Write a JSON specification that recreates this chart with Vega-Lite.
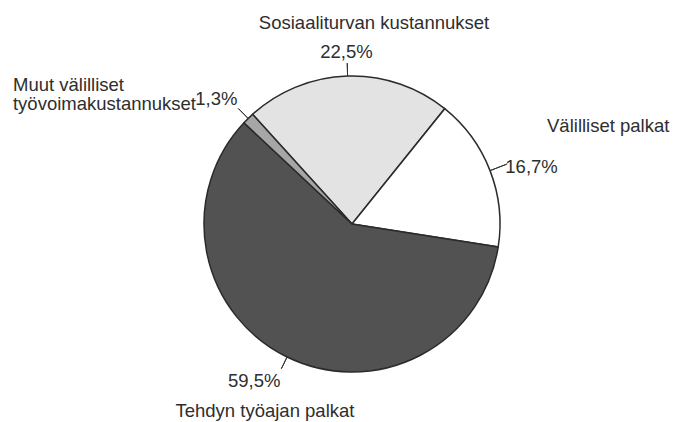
{
  "$schema": "https://vega.github.io/schema/vega-lite/v6.json",
  "width": 644,
  "height": 396,
  "autosize": "none",
  "padding": {"left": 30, "top": 26, "right": 0, "bottom": 0},
  "background": "white",
  "config": {"view": {"stroke": null}, "text": {"font": "Liberation Sans", "fontSize": 18.5, "fill": "#2e2e2e"}},
  "data": {
    "values": [
      {"name": "Sosiaaliturvan kustannukset", "label": "Sosiaaliturvan kustannukset", "share": 22.5, "pct": "22,5%", "order": 1},
      {"name": "Välilliset palkat", "label": "Välilliset palkat", "share": 16.7, "pct": "16,7%", "order": 2},
      {"name": "Tehdyn työajan palkat", "label": "Tehdyn työajan palkat", "share": 59.5, "pct": "59,5%", "order": 3},
      {"name": "Muut välilliset työvoimakustannukset", "label": ["Muut välilliset", "työvoimakustannukset"], "share": 1.3, "pct": "1,3%", "order": 4}
    ]
  },
  "encoding": {
    "theta": {"field": "share", "type": "quantitative", "stack": true, "scale": {"domain": [0, 100], "range": [-0.73653, 5.54666]}},
    "order": {"field": "order", "type": "quantitative"}
  },
  "layer": [
    {
      "mark": {"type": "arc", "outerRadius": 148, "stroke": "#2b2b2b", "strokeWidth": 1.5},
      "encoding": {
        "color": {
          "field": "name", "type": "nominal", "legend": null,
          "scale": {
            "domain": ["Sosiaaliturvan kustannukset", "Välilliset palkat", "Tehdyn työajan palkat", "Muut välilliset työvoimakustannukset"],
            "range": ["#e3e3e3", "#ffffff", "#525252", "#a6a6a6"]
          }
        }
      }
    },
    {
      "transform": [
        {"stack": "share", "groupby": [], "sort": [{"field": "order", "order": "ascending"}], "as": ["s0", "s1"]},
        {"filter": "datum.order === 1"}
      ],
      "mark": {"type": "arc", "innerRadius": 148, "outerRadius": 161, "thetaOffset": 0.706858, "theta2Offset": -0.706858, "fill": "transparent", "stroke": "#333333", "strokeWidth": 1},
      "encoding": {"theta": {"field": "s0", "type": "quantitative", "stack": null}, "theta2": {"field": "s1"}}
    },
    {
      "transform": [
        {"stack": "share", "groupby": [], "sort": [{"field": "order", "order": "ascending"}], "as": ["s0", "s1"]},
        {"filter": "datum.order === 2"}
      ],
      "mark": {"type": "arc", "innerRadius": 148, "outerRadius": 166, "thetaOffset": 0.524643, "theta2Offset": -0.524643, "fill": "transparent", "stroke": "#333333", "strokeWidth": 1},
      "encoding": {"theta": {"field": "s0", "type": "quantitative", "stack": null}, "theta2": {"field": "s1"}}
    },
    {
      "transform": [
        {"stack": "share", "groupby": [], "sort": [{"field": "order", "order": "ascending"}], "as": ["s0", "s1"]},
        {"filter": "datum.order === 3"}
      ],
      "mark": {"type": "arc", "innerRadius": 148, "outerRadius": 161, "thetaOffset": 1.869247, "theta2Offset": -1.869247, "fill": "transparent", "stroke": "#333333", "strokeWidth": 1},
      "encoding": {"theta": {"field": "s0", "type": "quantitative", "stack": null}, "theta2": {"field": "s1"}}
    },
    {
      "transform": [
        {"stack": "share", "groupby": [], "sort": [{"field": "order", "order": "ascending"}], "as": ["s0", "s1"]},
        {"filter": "datum.order === 4"}
      ],
      "mark": {"type": "arc", "innerRadius": 148, "outerRadius": 162, "thetaOffset": 0.040841, "theta2Offset": -0.040841, "fill": "transparent", "stroke": "#333333", "strokeWidth": 1},
      "encoding": {"theta": {"field": "s0", "type": "quantitative", "stack": null}, "theta2": {"field": "s1"}}
    },
    {
      "mark": {"type": "text", "radius": 161, "align": "center", "baseline": "alphabetic", "dx": -0.7, "dy": -5.4},
      "encoding": {"text": {"condition": {"test": "datum.order === 1", "field": "pct"}, "value": ""}}
    },
    {
      "mark": {"type": "text", "radius": 161, "align": "center", "baseline": "alphabetic", "dx": 26.8, "dy": -33.8},
      "encoding": {"text": {"condition": {"test": "datum.order === 1", "field": "label"}, "value": ""}}
    },
    {
      "mark": {"type": "text", "radius": 166, "align": "left", "baseline": "alphabetic", "dx": -1.5, "dy": 9},
      "encoding": {"text": {"condition": {"test": "datum.order === 2", "field": "pct"}, "value": ""}}
    },
    {
      "mark": {"type": "text", "radius": 166, "align": "left", "baseline": "alphabetic", "dx": 40.2, "dy": -31.8},
      "encoding": {"text": {"condition": {"test": "datum.order === 2", "field": "label"}, "value": ""}}
    },
    {
      "mark": {"type": "text", "radius": 161, "align": "right", "baseline": "alphabetic", "dx": -0.9, "dy": 18.6},
      "encoding": {"text": {"condition": {"test": "datum.order === 3", "field": "pct"}, "value": ""}}
    },
    {
      "mark": {"type": "text", "radius": 161, "align": "center", "baseline": "alphabetic", "dx": -16.4, "dy": 48.6},
      "encoding": {"text": {"condition": {"test": "datum.order === 3", "field": "label"}, "value": ""}}
    },
    {
      "mark": {"type": "text", "radius": 162, "align": "right", "baseline": "alphabetic", "dx": -0.9, "dy": -3.5},
      "encoding": {"text": {"condition": {"test": "datum.order === 4", "field": "pct"}, "value": ""}}
    },
    {
      "mark": {"type": "text", "radius": 162, "align": "left", "baseline": "alphabetic", "dx": -225.4, "dy": -17.8, "lineHeight": 19.3},
      "encoding": {"text": {"condition": {"test": "datum.order === 4", "field": "label"}, "value": ""}}
    }
  ]
}
